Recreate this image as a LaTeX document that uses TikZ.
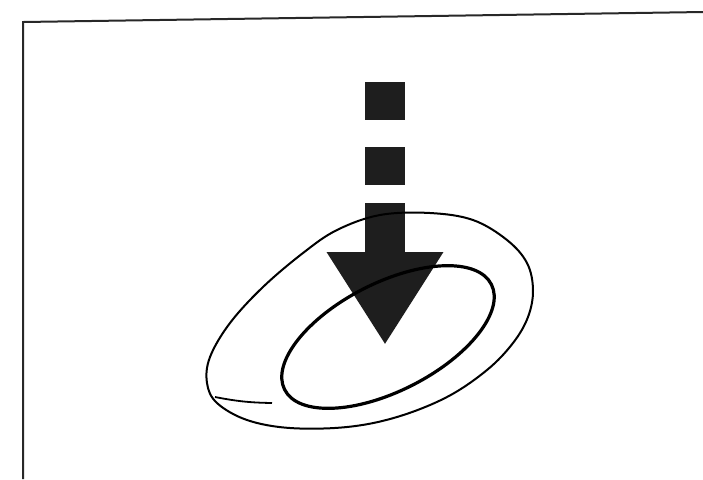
\documentclass[tikz,border=0pt]{standalone}
\usepackage{tikz}
\usetikzlibrary{arrows.meta,shapes.geometric,positioning}
\definecolor{inkdark}{RGB}{30,30,30}
\definecolor{framegray}{RGB}{40,40,40}

\begin{document}
\begin{tikzpicture}[x=0.5pt,y=-0.5pt,
  ring/.style={draw=black,ellipse,inner sep=0pt,rotate=27},
  drop/.style={draw=inkdark,line width=20pt,line cap=butt,
               dash pattern=on 19pt off 13.5pt on 19pt off 9pt on 400pt,
               -{Triangle[width=55pt,length=46.5pt]}}]
\useasboundingbox (0,0) rectangle (703,479);
% frame edges
\draw[framegray,line width=1pt] (23,479) -- (23,22) -- (703,12);
% dashed arrow
\coordinate (src) at (385,82);
\coordinate (tip) at (385,345);
\draw[drop] (src) -- (tip);
% outer loop, hand drawn egg
\draw[line width=1pt] plot[smooth cycle,tension=0.6] coordinates {
  (380,215) (430,213) (473,220) (507,240) (527,263) (533,290)
  (528,317) (513,343) (487,370) (447,397) (397,417) (347,427)
  (290,428) (247,420) (217,403) (207,383) (210,357) (230,323)
  (263,287) (303,253) (337,230)};
% inner ring
\node[ring,line width=1.6pt,minimum width=116pt,minimum height=54pt] (inner) at (388,337) {};
\coordinate (tailA) at (215,397);
\coordinate (tailB) at (272,403);
\draw[line width=0.9pt] (tailA) to[bend right=5] (tailB);
\end{tikzpicture}
\end{document}
